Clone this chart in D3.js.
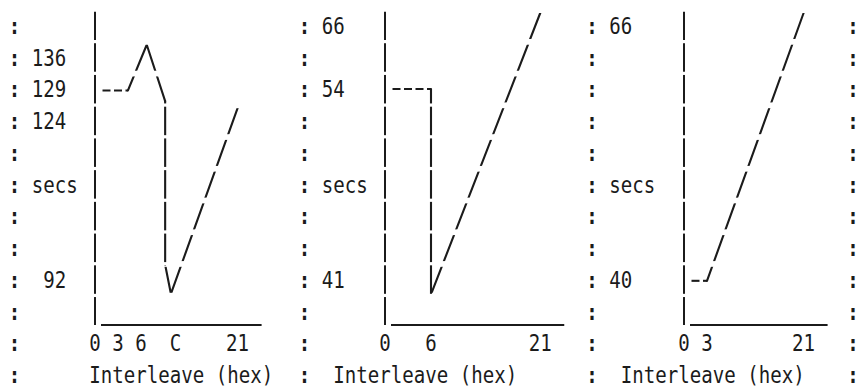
<!DOCTYPE html>
<html lang="en">
<head>
  <meta charset="utf-8">
  <script src="https://d3js.org/d3.v7.min.js"></script>
  <style>
    body { margin: 0; background: #fff; }
    text { font-family: "DejaVu Sans Mono", monospace; font-size: 23px; fill: #1b1b1b; }
    text.colon { font-weight: bold; }
  </style>
</head>
<body>
  <script type="text/javascript">
    // drive 1: seconds per interleave (interleave in hex on the axis)
    var interleave1 = [0, 4.3, 7, 10.2, 10.2, 11.2, 33];
    var secs1 = [129, 129, 136, 126, 97, 92, 124];
    var xTicks1 = [0, 3, 6, 12, 33];
    var yTicks1 = [136, 129, 124, 92];

    // drive 2
    var interleave2 = [0, 6, 6, 33];
    var secs2 = [54, 54, 41, 66];
    var xTicks2 = [0, 6, 33];
    var yTicks2 = [66, 54, 41];

    // drive 3
    var interleave3 = [0, 3, 33];
    var secs3 = [40, 40, 66];
    var xTicks3 = [0, 3, 33];
    var yTicks3 = [66, 40];

    var yTitle = "secs";
    var xTitle = "Interleave (hex)";

    // the chart is laid out like typed text: fixed rows and character columns
    var width = 859, height = 389;
    var charW = 11.5;
    var fontSize = 23;
    var squeeze = charW / (0.602 * fontSize);
    var nRows = 12;
    var ink = "#1b1b1b";
    var rowY = d3.scaleLinear().domain([0, 11]).range([27, 376]);
    var axisY = rowY(9) + 12.5;

    // layout per panel (column 0 is the y axis)
    var panels = [
      { interleave: interleave1, secs: secs1, xTicks: xTicks1, yTicks: yTicks1,
        x0: 95, colonCol: -7, labelCol: -5, titleCol: 0, rightColonCol: null,
        xCols: [0, 2, 4, 7, 12.4],
        yRows: [[8, 13], [3, -14], [2, 0], [1, -14]] },
      { interleave: interleave2, secs: secs2, xTicks: xTicks2, yTicks: yTicks2,
        x0: 385, colonCol: -7, labelCol: -5, titleCol: -4, rightColonCol: null,
        xCols: [0, 4, 13.5],
        yRows: [[8, 13.5], [2, -1.5], [0, -14]] },
      { interleave: interleave3, secs: secs3, xTicks: xTicks3, yTicks: yTicks3,
        x0: 684, colonCol: -8, labelCol: -6, titleCol: -5, rightColonCol: 14.7,
        xCols: [0, 2, 10.4],
        yRows: [[8, 0], [0, -14]] }
    ];

    var svg = d3.select("body")
      .append("svg")
      .attr("width", width)
      .attr("height", height);

    var defs = svg.append("defs");

    // masks that leave the small gaps between typed rows:
    // "|" glyphs are taller than "/" and "\" glyphs
    function rowMask(id, top, bottom) {
      var m = defs.append("mask")
        .attr("id", id)
        .attr("maskUnits", "userSpaceOnUse")
        .attr("x", 0).attr("y", 0)
        .attr("width", width).attr("height", height);

      m.selectAll("rect")
        .data(d3.range(nRows))
        .join("rect")
        .attr("x", 0)
        .attr("width", width)
        .attr("y", function(r) { return rowY(r) - top; })
        .attr("height", top + bottom)
        .attr("fill", "#fff");
    }
    rowMask("barMask", 15.5, 13);
    rowMask("slashMask", 14, 12);

    // put a string on the character grid, squeezed to the column pitch
    function typeText(g, str, startX, row, cls) {
      g.append("text")
        .attr("class", cls || "label")
        .attr("transform", "translate(" + startX + "," + (rowY(row) + 7) +
          ") scale(" + squeeze + ",1)")
        .text(str);
    }

    panels.forEach(function(p, k) {
      var colX = function(c) { return p.x0 + c * charW; };
      var cellX = function(c) { return colX(c) - charW / 2; };

      var x = d3.scaleLinear()
        .domain(p.xTicks)
        .range(p.xCols.map(colX));

      var y = d3.scaleLinear()
        .domain(p.yTicks.slice().sort(d3.ascending))
        .range(p.yRows.map(function(d) { return rowY(d[0]) + d[1]; }));

      var g = svg.append("g").attr("class", "panel");

      // mask for dashes: one short dash per character column
      var maskId = "dashMask" + k;
      var dashMask = defs.append("mask")
        .attr("id", maskId)
        .attr("maskUnits", "userSpaceOnUse")
        .attr("x", 0).attr("y", 0)
        .attr("width", width).attr("height", height);

      dashMask.selectAll("rect")
        .data(d3.range(1, 20))
        .join("rect")
        .attr("x", function(c) { return colX(c) - 4; })
        .attr("width", 8)
        .attr("y", 0)
        .attr("height", height)
        .attr("fill", "#fff");

      // column of colons
      d3.range(nRows).forEach(function(r) {
        typeText(g, ":", cellX(p.colonCol), r, "colon");
        if (p.rightColonCol !== null) {
          typeText(g, ":", cellX(p.rightColonCol), r, "colon");
        }
      });

      // y tick labels, snapped to the nearest text row
      var maxLen = d3.max(p.yTicks, function(d) { return String(d).length; });
      var endCol = p.labelCol + maxLen - 1;
      p.yTicks.forEach(function(v) {
        var label = String(v);
        var row = Math.round(rowY.invert(y(v)));
        typeText(g, label, cellX(endCol - label.length + 1), row);
      });
      typeText(g, yTitle, cellX(p.labelCol), 5);

      // x tick labels in hex
      p.xTicks.forEach(function(v) {
        var label = v.toString(16).toUpperCase();
        typeText(g, label, x(v) - label.length * charW / 2, 10);
      });
      typeText(g, xTitle, cellX(p.titleCol), 11);

      // y axis made of stacked bars
      g.append("line")
        .attr("x1", p.x0).attr("x2", p.x0)
        .attr("y1", rowY(0) - 15.5).attr("y2", axisY)
        .attr("stroke", ink)
        .attr("stroke-width", 2)
        .attr("mask", "url(#barMask)");

      // x axis
      g.append("line")
        .attr("x1", p.x0 + 6)
        .attr("x2", x(d3.max(p.xTicks)) + 24)
        .attr("y1", axisY).attr("y2", axisY)
        .attr("stroke", ink)
        .attr("stroke-width", 2);

      // split the curve into flat runs (dashes), drops (bars) and slopes
      var pts = p.interleave.map(function(v, i) { return [x(v), y(p.secs[i])]; });
      var runs = [];
      for (var i = 0; i < pts.length - 1; i++) {
        var a = pts[i], b = pts[i + 1];
        var kind = a[1] === b[1] ? "flat" : (a[0] === b[0] ? "bar" : "slash");
        var last = runs[runs.length - 1];
        if (last && last.kind === kind) {
          last.pts.push(b);
        } else {
          runs.push({ kind: kind, pts: [a, b] });
        }
      }

      g.selectAll("path.curve")
        .data(runs)
        .join("path")
        .attr("class", "curve")
        .attr("d", function(d) { return d3.line()(d.pts); })
        .attr("fill", "none")
        .attr("stroke", ink)
        .attr("stroke-width", 2.1)
        .attr("stroke-linejoin", "round")
        .attr("stroke-linecap", function(d) { return d.kind === "flat" ? "butt" : "round"; })
        .attr("mask", function(d) {
          if (d.kind === "flat") return "url(#" + maskId + ")";
          return d.kind === "bar" ? "url(#barMask)" : "url(#slashMask)";
        });
    });
  </script>
</body>
</html>
